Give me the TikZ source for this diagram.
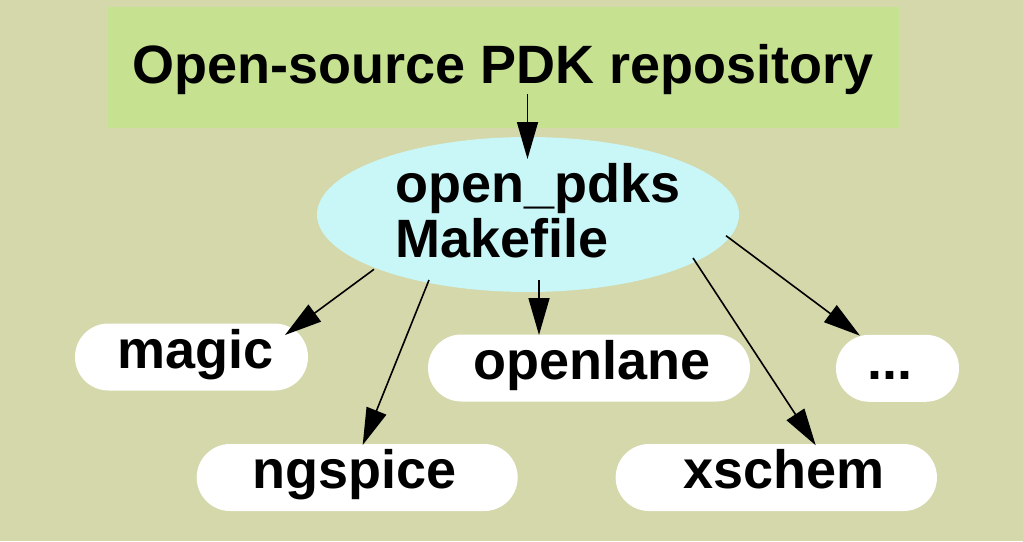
\documentclass[tikz,border=0pt]{standalone}
\usepackage{fontspec}
\setmainfont{Liberation Sans}
\usetikzlibrary{calc,arrows.meta,shapes.geometric}
\definecolor{bgcol}{RGB}{212,216,170}
\definecolor{repocol}{RGB}{198,226,144}
\definecolor{mkcol}{RGB}{201,246,246}
\tikzset{
  pill/.style={draw=none, fill=white, rectangle, rounded corners=33.4pt, inner sep=0pt,
    minimum height=67pt, text height=36pt, text depth=14pt,
    font=\fontsize{54}{56}\selectfont\bfseries},
  arr/.style={-{Triangle[length=37pt,width=21pt]}, line width=1.6pt, black}
}
\begin{document}
\begin{tikzpicture}[x=1pt,y=-1pt]
\fill[bgcol] (0,0) rectangle (1023,541);
\useasboundingbox (0,0) rectangle (1023,541);
\node[fill=repocol, rectangle, inner sep=0pt, minimum width=791.5pt, minimum height=120.5pt,
  text height=41pt, text depth=9.5pt, font=\fontsize{54}{56}\selectfont\bfseries]
  (repo) at (503.25,67.25) {Open-source PDK repository};
\node[fill=mkcol, ellipse, inner sep=0pt, minimum width=422pt, minimum height=155pt] (mk) at (528,214.5) {};
\node[anchor=base west, inner sep=0pt, align=left, font=\fontsize{54}{55}\selectfont\bfseries]
  (mktext) at (395,257) {open\_pdks\\Makefile};
\node[pill, minimum width=233pt] (magic) at (191.5,357) {\hspace*{8pt}magic};
\node[pill, minimum width=322pt] (openlane) at (589,368) {\hspace*{6pt}openlane};
\node[pill, minimum width=123pt] (dots) at (897.5,368.3) {\hspace*{-16pt}...};
\node[pill, minimum width=321pt] (ngspice) at (357.2,477.5) {\hspace*{-6pt}ngspice};
\node[pill, minimum width=321.3pt] (xschem) at (776.3,477.5) {\hspace*{16pt}xschem};
\draw[arr] ($(repo)+(24.25,26.75)$) -- ($(mk)+(-0.5,-55.5)$);
\draw[arr] ($(mk)+(-154,54.8)$) -- ($(magic)+(93.5,-22)$);
\draw[arr] ($(mk)+(-99,65.5)$) -- ($(ngspice)+(5.5,-32.5)$);
\draw[arr] ($(mk)+(11,65.5)$) -- ($(openlane)+(-50,-33)$);
\draw[arr] ($(mk)+(165,43.5)$) -- ($(xschem)+(39.4,-32.2)$);
\draw[arr] ($(mk)+(198,21.2)$) -- ($(dots)+(-37.5,-32.6)$);
\end{tikzpicture}
\end{document}
